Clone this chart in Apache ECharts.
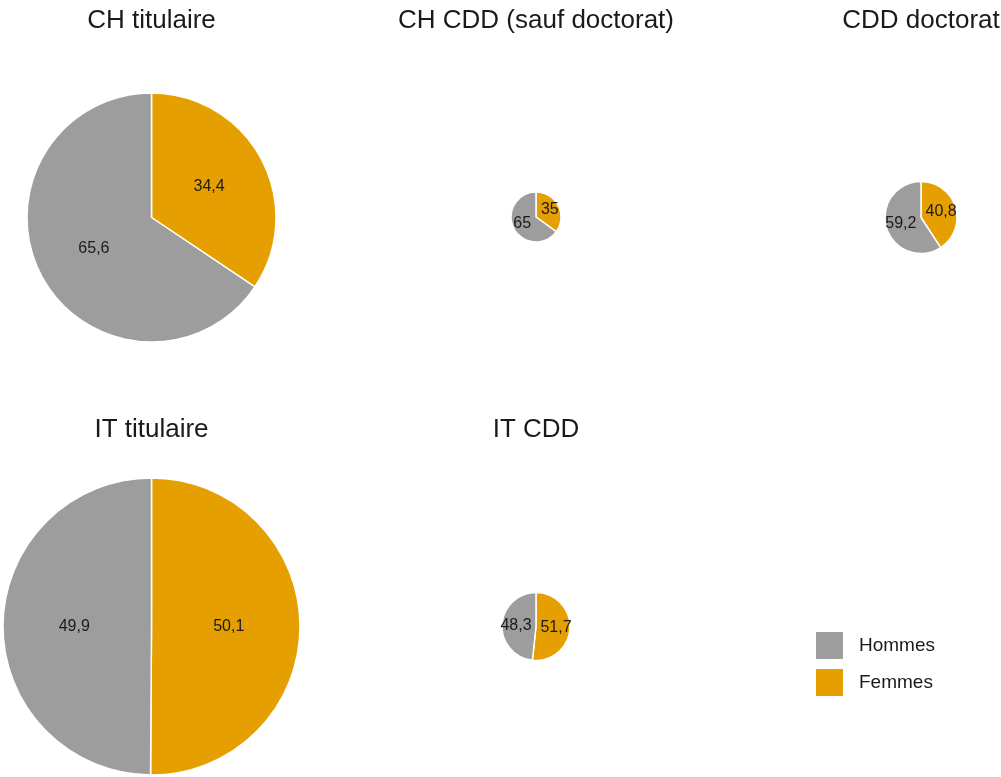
<!DOCTYPE html>
<html>
<head>
<meta charset="utf-8">
<script src="https://cdn.jsdelivr.net/npm/echarts@6/dist/echarts.min.js"></script>
<style>
  html,body{margin:0;padding:0;background:#fff;}
  #main{width:1001px;height:777px;}
</style>
</head>
<body>
<div id="main"></div>
<script>
// data
var groups = ["CH titulaire", "CH CDD (sauf doctorat)", "CDD doctorat", "IT titulaire", "IT CDD"];
var femmes = [34.4, 35, 40.8, 50.1, 51.7];
var hommes = [65.6, 65, 59.2, 49.9, 48.3];
var seriesNames = ["Hommes", "Femmes"];

// layout of each pie (pixels): center x, center y, radius
var layout = [
    [151.5, 217.5, 124.5],
    [536, 217, 25],
    [921, 217.5, 36],
    [151.5, 626.5, 148.5],
    [536, 626.5, 34]
];
var colHommes = "#9d9d9d";
var colFemmes = "#e69f00";

function fmt(p) {
    return String(p.value).replace(".", ",");
}

var series = [];
var titles = [];
for (var i = 0; i < groups.length; i++) {
    var l = layout[i];
    series.push({
        type: "pie",
        name: groups[i],
        center: [l[0], l[1]],
        radius: [0, l[2]],
        startAngle: 90,
        clockwise: true,
        avoidLabelOverlap: false,
        silent: true,
        label: {
            show: true,
            position: "inside",
            formatter: fmt,
            fontFamily: "Liberation Sans, Arial, sans-serif",
            fontSize: 16,
            color: "#1a1a1a"
        },
        labelLine: {show: false},
        itemStyle: {borderColor: "#fff", borderWidth: 1.5},
        data: [
            {name: seriesNames[1], value: femmes[i], itemStyle: {color: colFemmes}},
            {name: seriesNames[0], value: hommes[i], itemStyle: {color: colHommes}}
        ]
    });
    titles.push({
        text: groups[i],
        left: l[0],
        top: i < 3 ? 8 : 417,
        textAlign: "center",
        padding: 0,
        textStyle: {
            fontFamily: "Liberation Sans, Arial, sans-serif",
            fontSize: 26,
            fontWeight: "normal",
            color: "#1a1a1a"
        }
    });
}

var chart = echarts.init(document.getElementById("main"));
chart.setOption({
    animation: false,
    backgroundColor: "#fff",
    title: titles,
    color: [colFemmes, colHommes],
    legend: {
        data: [
            {name: "Hommes", itemStyle: {color: colHommes}},
            {name: "Femmes", itemStyle: {color: colFemmes}}
        ],
        orient: "vertical",
        left: 814,
        top: 630,
        padding: 0,
        itemWidth: 29,
        itemHeight: 29,
        itemGap: 6,
        icon: "rect",
        selectedMode: false,
        textStyle: {
            fontFamily: "Liberation Sans, Arial, sans-serif",
            fontSize: 19,
            color: "#1a1a1a",
            padding: [0, 0, 0, 10]
        }
    },
    series: series
});
</script>
</body>
</html>
